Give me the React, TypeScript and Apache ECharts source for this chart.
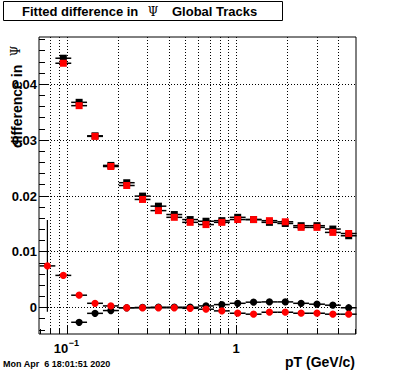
import React, { useEffect, useRef } from "react";
import * as echarts from "echarts";

// pT bin centres (GeV/c), log-spaced bins
const binCenters = [
  0.077, 0.0956, 0.1185, 0.1471, 0.1824, 0.2263, 0.2806, 0.3481, 0.4318, 0.5356,
  0.6644, 0.824, 1.022, 1.268, 1.573, 1.951, 2.42, 3.002, 3.724, 4.618,
];
const BIN_HALF_DECADES = 0.0468;

const blackSquares: (number | null)[] = [
  null, 0.0446, 0.0367, 0.0307, 0.0254, 0.0223, 0.0199, 0.0181, 0.0166, 0.0157,
  0.0154, 0.0155, 0.0161, 0.0157, 0.0152, 0.015, 0.0146, 0.0146, 0.014, 0.0128,
];
const redSquares: (number | null)[] = [
  null, 0.0437, 0.0361, 0.0306, 0.0252, 0.0218, 0.0193, 0.0173, 0.0161, 0.0152,
  0.0148, 0.0152, 0.0157, 0.0157, 0.0155, 0.0153, 0.0143, 0.0143, 0.0134, 0.0132,
];
const blackCircles: (number | null)[] = [
  null, null, -0.0027, -0.0011, -0.0006, -0.0001, -0.00005, 0.0, 0.0, 0.0,
  0.00023, 0.00047, 0.0007, 0.0009, 0.00095, 0.00095, 0.0007, 0.00054, 0.00036, -0.0001,
];
const redCircles: (number | null)[] = [
  0.0074, 0.0057, 0.00215, 0.0007, 0.00023, -0.0001, -0.0001, -0.0001, -0.0001, -0.0002,
  -0.00036, -0.00066, -0.00108, -0.00125, -0.0009, -0.0009, -0.00108, -0.00108, -0.00125, -0.00125,
];
const redCircleErrors = [
  0.0082, 0, 0, 0, 0, 0, 0, 0, 0, 0, 0, 0, 0, 0, 0, 0, 0, 0, 0, 0,
];

const X_MIN = 0.0687;
const X_MAX = 5.1;
const Y_MIN = -0.0048;
const Y_MAX = 0.0484;

const yMajorTicks = [0, 0.01, 0.02, 0.03, 0.04];
const yTickLabels = ["0", "0.01", "0.02", "0.03", "0.04"];
const yMinorTicks = [
  -0.004, -0.002, 0.002, 0.004, 0.006, 0.008, 0.012, 0.014, 0.016, 0.018, 0.022,
  0.024, 0.026, 0.028, 0.032, 0.034, 0.036, 0.038, 0.042, 0.044, 0.046, 0.048,
];
const xMajorTicks = [0.1, 1];
const xMinorTicks = [0.07, 0.08, 0.09, 0.2, 0.3, 0.4, 0.5, 0.6, 0.7, 0.8, 0.9, 2, 3, 4, 5];
const xGridLines = [0.08, 0.09, 0.1, 0.2, 0.3, 0.4, 0.5, 0.6, 0.7, 0.8, 0.9, 1, 2, 3, 4];
const yGridLines = [0, 0.01, 0.02, 0.03, 0.04];

const FONT = '"Liberation Sans", Arial, Helvetica, sans-serif';

function toData(vals: (number | null)[], errs?: number[]) {
  const out: number[][] = [];
  vals.forEach((v, i) => {
    if (v !== null) out.push([binCenters[i], v, errs ? errs[i] : 0]);
  });
  return out;
}

function pointRenderer(shape: "square" | "circle", color: string) {
  return (_params: any, api: any) => {
    const x = api.value(0);
    const y = api.value(1);
    const e = api.value(2);
    const f = Math.pow(10, BIN_HALF_DECADES);
    const c = api.coord([x, y]);
    const pL = api.coord([x / f, y]);
    const pR = api.coord([x * f, y]);
    const children: any[] = [
      {
        type: "line",
        shape: { x1: pL[0], y1: c[1], x2: pR[0], y2: c[1] },
        style: { stroke: "#000", lineWidth: 1.5 },
      },
    ];
    if (e > 0) {
      const pt = api.coord([x, y + e]);
      const pb = api.coord([x, y - e]);
      children.push({
        type: "line",
        shape: { x1: c[0], y1: pt[1], x2: c[0], y2: pb[1] },
        style: { stroke: "#000", lineWidth: 1.2 },
      });
    }
    if (shape === "square") {
      children.push({
        type: "rect",
        shape: { x: c[0] - 3.5, y: c[1] - 3.5, width: 7, height: 7 },
        style: { fill: color },
      });
    } else {
      children.push({
        type: "circle",
        shape: { cx: c[0], cy: c[1], r: 3.6 },
        style: { fill: color },
      });
    }
    return { type: "group", children };
  };
}

function frameRenderer(_params: any, api: any) {
  const children: any[] = [];
  const dotted = { stroke: "#000", lineWidth: 1, lineDash: [1, 2] };
  const solid = { stroke: "#000", lineWidth: 1 };
  const bl = api.coord([X_MIN, Y_MIN]);
  const tr = api.coord([X_MAX, Y_MAX]);
  const left = bl[0];
  const bottom = bl[1];
  const top = tr[1];
  const right = tr[0];
  xGridLines.forEach((v) => {
    const p = Math.round(api.coord([v, 0])[0]) + 0.5;
    children.push({ type: "line", shape: { x1: p, y1: top, x2: p, y2: bottom }, style: dotted });
  });
  yGridLines.forEach((v) => {
    const p = Math.round(api.coord([1, v])[1]) + 0.5;
    children.push({ type: "line", shape: { x1: left, y1: p, x2: right, y2: p }, style: dotted });
  });
  yMajorTicks.forEach((v, i) => {
    const p = Math.round(api.coord([1, v])[1]) + 0.5;
    children.push({ type: "line", shape: { x1: left, y1: p, x2: left + 10, y2: p }, style: solid });
    children.push({
      type: "text",
      x: left - 2,
      y: p,
      style: {
        text: yTickLabels[i],
        font: `bold 13px ${FONT}`,
        fill: "#000",
        align: "right",
        verticalAlign: "middle",
      },
    });
  });
  yMinorTicks.forEach((v) => {
    const p = Math.round(api.coord([1, v])[1]) + 0.5;
    children.push({ type: "line", shape: { x1: left, y1: p, x2: left + 6, y2: p }, style: solid });
  });
  xMajorTicks.forEach((v) => {
    const p = Math.round(api.coord([v, 0])[0]) + 0.5;
    children.push({ type: "line", shape: { x1: p, y1: bottom, x2: p, y2: bottom - 9 }, style: solid });
  });
  xMinorTicks.forEach((v) => {
    const p = Math.round(api.coord([v, 0])[0]) + 0.5;
    children.push({ type: "line", shape: { x1: p, y1: bottom, x2: p, y2: bottom - 5 }, style: solid });
  });
  // x tick labels: 10^-1 and 1
  const p01 = api.coord([0.1, 0])[0];
  children.push({
    type: "text",
    x: p01 + 1.5,
    y: bottom + 14,
    style: { text: "10", font: `bold 13px ${FONT}`, fill: "#000", align: "right", verticalAlign: "middle" },
  });
  children.push({
    type: "text",
    x: p01 + 2,
    y: bottom + 9,
    style: { text: "\u22121", font: `bold 9px ${FONT}`, fill: "#000", align: "left", verticalAlign: "middle" },
  });
  const p1 = api.coord([1, 0])[0];
  children.push({
    type: "text",
    x: p1,
    y: bottom + 14,
    style: { text: "1", font: `bold 13px ${FONT}`, fill: "#000", align: "center", verticalAlign: "middle" },
  });
  return { type: "group", children };
}

export default function App() {
  const ref = useRef<HTMLDivElement>(null);
  useEffect(() => {
    if (!ref.current) return;
    const chart = echarts.init(ref.current, undefined, { renderer: "svg" });
    chart.setOption({
      animation: false,
      backgroundColor: "#fff",
      grid: {
        left: 39,
        top: 37,
        width: 317,
        height: 297,
        show: true,
        borderColor: "#000",
        borderWidth: 1,
        backgroundColor: "transparent",
      },
      xAxis: {
        type: "log",
        logBase: 10,
        min: X_MIN,
        max: X_MAX,
        axisLine: { show: false },
        axisTick: { show: false },
        axisLabel: { show: false },
        splitLine: { show: false },
      },
      yAxis: {
        type: "value",
        min: Y_MIN,
        max: Y_MAX,
        axisLine: { show: false },
        axisTick: { show: false },
        axisLabel: { show: false },
        splitLine: { show: false },
      },
      graphic: [
        {
          type: "rect",
          shape: { x: 3.5, y: 1.5, width: 279, height: 19 },
          style: { fill: "#fff", stroke: "#000", lineWidth: 1 },
          z: 10,
        },
        {
          type: "text",
          x: 22,
          y: 11.5,
          style: { text: "Fitted difference in", font: `bold 13px ${FONT}`, fill: "#000", align: "left", verticalAlign: "middle" },
          z: 11,
        },
        {
          type: "text",
          x: 153,
          y: 11.5,
          style: { text: "\u03A8", font: `12px "DejaVu Serif", serif`, fill: "#000", align: "center", verticalAlign: "middle" },
          z: 11,
        },
        {
          type: "text",
          x: 172,
          y: 11.5,
          style: { text: "Global Tracks", font: `bold 13px ${FONT}`, fill: "#000", align: "left", verticalAlign: "middle" },
          z: 11,
        },
        {
          type: "text",
          x: 17,
          y: 148,
          rotation: Math.PI / 2,
          style: { text: "difference in", font: `bold 14px ${FONT}`, fill: "#000", align: "left", verticalAlign: "middle" },
          z: 11,
        },
        {
          type: "text",
          x: 16,
          y: 51,
          rotation: Math.PI / 2,
          style: { text: "\u03A8", font: `12px "DejaVu Serif", serif`, fill: "#000", align: "center", verticalAlign: "middle" },
          z: 11,
        },
        {
          type: "text",
          x: 355,
          y: 362,
          style: { text: "pT (GeV/c)", font: `bold 14px ${FONT}`, fill: "#000", align: "right", verticalAlign: "middle" },
          z: 11,
        },
        {
          type: "text",
          x: 3,
          y: 364,
          style: { text: "Mon Apr  6 18:01:51 2020", font: `bold 9px ${FONT}`, fill: "#000", align: "left", verticalAlign: "middle" },
          z: 11,
        },
      ],
      series: [
        {
          type: "custom",
          name: "frame",
          z: 1,
          data: [[1, 0]],
          renderItem: frameRenderer,
          silent: true,
        },
        {
          type: "custom",
          name: "black squares",
          z: 3,
          data: toData(blackSquares),
          renderItem: pointRenderer("square", "#000"),
        },
        {
          type: "custom",
          name: "red squares",
          z: 4,
          data: toData(redSquares),
          renderItem: pointRenderer("square", "#ff0000"),
        },
        {
          type: "custom",
          name: "black circles",
          z: 5,
          data: toData(blackCircles),
          renderItem: pointRenderer("circle", "#000"),
        },
        {
          type: "custom",
          name: "red circles",
          z: 6,
          data: toData(redCircles, redCircleErrors),
          renderItem: pointRenderer("circle", "#ff0000"),
        },
      ],
    });
    return () => chart.dispose();
  }, []);
  return (
    <div
      ref={ref}
      style={{ position: "fixed", left: 0, top: 0, width: 396, height: 372, background: "#fff" }}
    />
  );
}
